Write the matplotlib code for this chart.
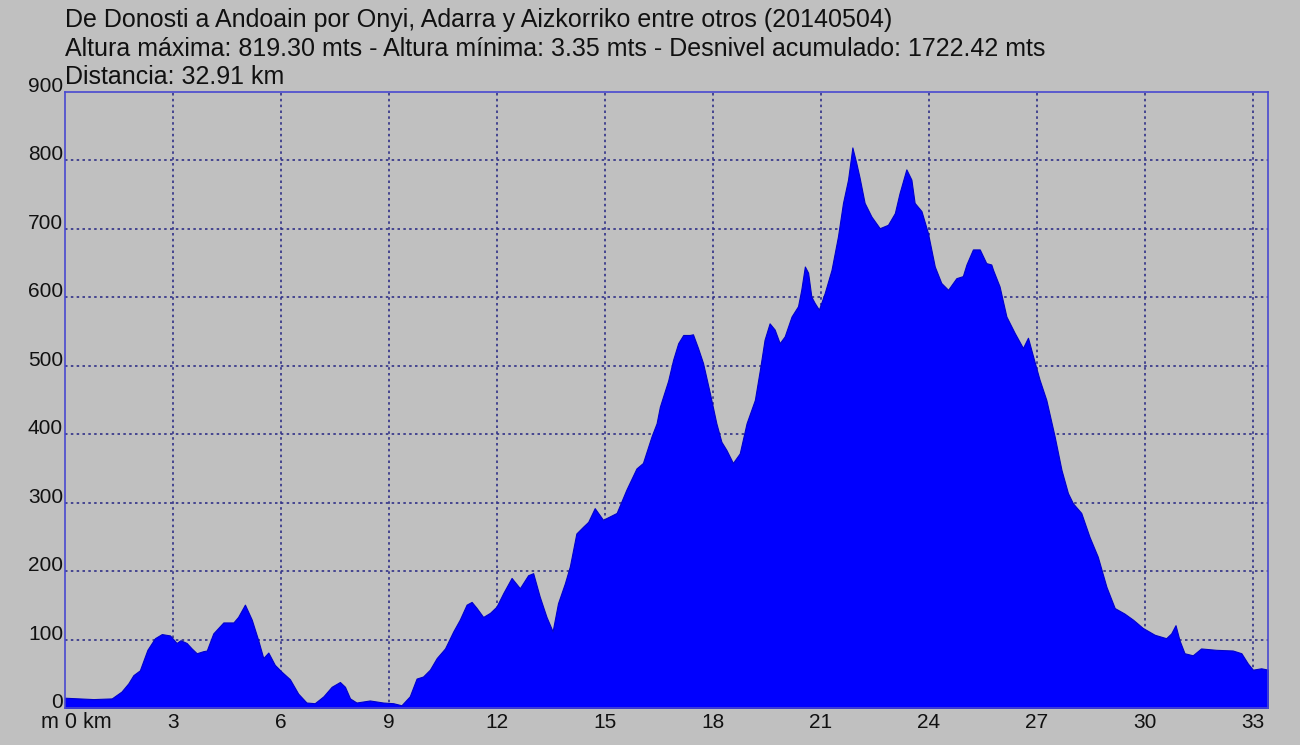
import numpy as np
import matplotlib.pyplot as plt

# Elevation profile (km, m)
dist_km = [0.00, 0.79, 1.30, 1.57, 1.76, 1.90, 2.08, 2.29, 2.50, 2.69, 2.92, 3.10, 3.21,
           3.38, 3.52, 3.66, 3.84, 3.94, 4.12, 4.40, 4.68, 4.81, 5.00, 5.19, 5.37, 5.51,
           5.65, 5.83, 6.02, 6.25, 6.48, 6.71, 6.94, 7.18, 7.41, 7.64, 7.78, 7.92, 8.10,
           8.47, 8.84, 9.12, 9.35, 9.58, 9.77, 9.95, 10.14, 10.33, 10.56, 10.79, 10.97,
           11.16, 11.30, 11.44, 11.62, 11.81, 11.99, 12.18, 12.41, 12.64, 12.87, 13.01,
           13.19, 13.38, 13.55, 13.70, 13.89, 14.03, 14.21, 14.40, 14.54, 14.72, 14.95,
           15.14, 15.33, 15.60, 15.88, 16.06, 16.30, 16.44, 16.53, 16.62, 16.76, 16.90,
           17.04, 17.18, 17.36, 17.45, 17.59, 17.73, 17.92, 18.10, 18.24, 18.38, 18.56,
           18.75, 18.94, 19.17, 19.31, 19.44, 19.58, 19.72, 19.86, 20.00, 20.19, 20.37,
           20.46, 20.56, 20.65, 20.74, 20.83, 20.95, 21.11, 21.30, 21.48, 21.62, 21.76,
           21.88, 21.99, 22.08, 22.22, 22.41, 22.64, 22.87, 23.06, 23.19, 23.38, 23.52,
           23.61, 23.80, 23.98, 24.17, 24.35, 24.54, 24.77, 24.95, 25.05, 25.23, 25.42,
           25.60, 25.74, 25.79, 25.97, 26.16, 26.39, 26.62, 26.76, 26.90, 27.08, 27.27,
           27.50, 27.69, 27.87, 28.01, 28.24, 28.47, 28.70, 28.94, 29.17, 29.44, 29.68,
           29.95, 30.28, 30.60, 30.74, 30.86, 30.97, 31.11, 31.34, 31.57, 31.99, 32.45,
           32.69, 32.87, 33.01, 33.24, 33.43]
elev_m = [15, 13, 14, 24, 36, 48, 55, 85, 102, 108, 106, 95, 99,
          95, 87, 80, 83, 84, 109, 125, 125, 133, 151, 129, 99, 73,
          81, 63, 53, 42, 21, 8, 7, 17, 31, 38, 31, 14, 8,
          11, 8, 7, 4, 17, 43, 46, 56, 73, 87, 112, 129,
          151, 155, 146, 133, 139, 148, 168, 190, 175, 194, 197,
          163, 133, 112, 153, 182, 207, 255, 265, 272, 292, 275,
          280, 285, 319, 350, 358, 397, 416, 440, 455, 478, 509,
          533, 545, 545, 546, 526, 504, 460, 416, 389, 377, 358,
          372, 416, 450, 494, 538, 562, 553, 533, 543, 572, 587,
          611, 645, 636, 601, 592, 582, 606, 640, 689, 738, 772,
          819, 796, 775, 738, 718, 701, 706, 723, 752, 787, 772,
          738, 726, 694, 645, 621, 611, 628, 631, 648, 670, 670,
          650, 648, 640, 616, 572, 548, 526, 541, 514, 480, 450,
          397, 348, 314, 299, 285, 250, 221, 177, 146, 138, 129,
          117, 107, 102, 109, 121, 99, 80, 77, 87, 85, 84,
          80, 65, 56, 58, 56]

y_ticks = [0, 100, 200, 300, 400, 500, 600, 700, 800, 900]
x_ticks = [3, 6, 9, 12, 15, 18, 21, 24, 27, 30, 33]

title_lines = [
    "De Donosti a Andoain por Onyi, Adarra y Aizkorriko entre otros (20140504)",
    "Altura máxima: 819.30 mts - Altura mínima: 3.35 mts - Desnivel acumulado: 1722.42 mts",
    "Distancia: 32.91 km",
]

plt.rcParams['font.family'] = ['Liberation Sans', 'DejaVu Sans']
bg = '#c0c0c0'

fig = plt.figure(figsize=(13, 7.45), dpi=100, facecolor=bg)
ax = fig.add_axes([65 / 1300, 1 - 708 / 745, (1268 - 65) / 1300, (708 - 92) / 745])
ax.set_facecolor(bg)

# grid first, profile on top of it
for xv in x_ticks:
    ax.axvline(xv, color='#303088', lw=1.2, ls=(0, (1.5, 2)), zorder=1)
for yv in y_ticks[1:-1]:
    ax.axhline(yv, color='#303088', lw=1.2, ls=(0, (1.5, 2)), zorder=1)

ax.fill_between(dist_km, 0, elev_m, color='#0000ff', lw=0.8, edgecolor='#0000cc', zorder=2)

ax.set_xlim(0, 33.43)
ax.set_ylim(0, 900)
ax.set_xticks([])
ax.set_yticks([])
for side in ['left', 'top', 'right', 'bottom']:
    ax.spines[side].set_color('#4848d0')
    ax.spines[side].set_linewidth(1.2)
    ax.spines[side].set_zorder(3)

# tick labels
for yv in y_ticks:
    ax.annotate(str(yv), xy=(0, yv), xycoords=('axes fraction', 'data'),
                xytext=(-2, 0), textcoords='offset pixels',
                ha='right', va='baseline', fontsize=15, color='#111111')
for xv in x_ticks:
    ax.annotate(str(xv), xy=(xv, 0), xycoords=('data', 'axes fraction'),
                xytext=(0, -20), textcoords='offset pixels',
                ha='center', va='baseline', fontsize=15, color='#111111')
ax.annotate("m 0 km", xy=(0, 0), xycoords='axes fraction',
            xytext=(11, -20), textcoords='offset pixels',
            ha='center', va='baseline', fontsize=15.5, color='#111111')

# header text
for i, line in enumerate(title_lines):
    fig.text(65 / 1300, 1 - (27 + 28.5 * i) / 745, line, ha='left', va='baseline',
             fontsize=18, color='#111111')

fig.savefig('out.png', dpi=100, facecolor=bg)
